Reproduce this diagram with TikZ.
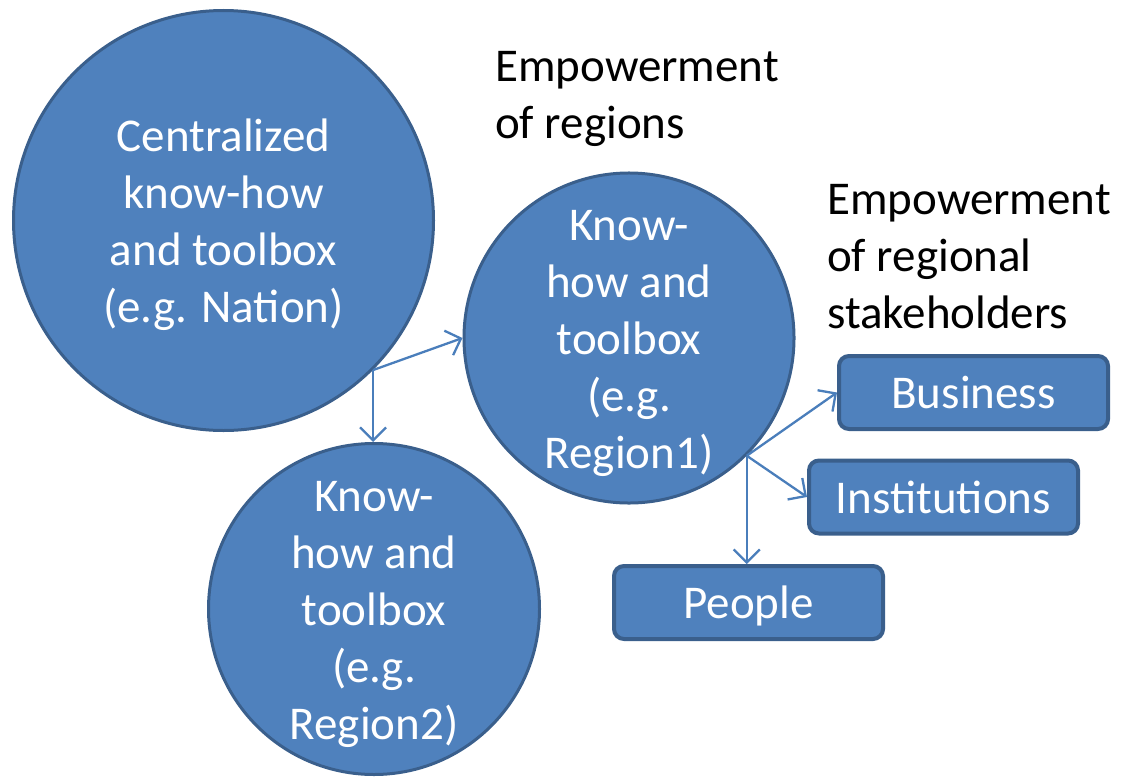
\documentclass[tikz,border=0pt]{standalone}
\usepackage{fontspec}
\setmainfont{Carlito}
\usetikzlibrary{arrows.meta}
\definecolor{fillblue}{HTML}{4F81BD}
\definecolor{edgeblue}{HTML}{3A5F8C}
\definecolor{arrowblue}{HTML}{4A7EBB}
\newcommand\pptstrut{\rule[-12.4pt]{0pt}{56.9pt}}
\tikzset{
  bigfont/.style={font=\fontsize{47}{57}\selectfont},
  bubble/.style={circle, draw=edgeblue, fill=fillblue, line width=3pt, inner sep=0pt,
    text=white, align=center, bigfont},
  stakebox/.style={rectangle, rounded corners=10pt, draw=edgeblue, fill=fillblue, line width=4pt,
    minimum width=269pt, minimum height=73pt, inner sep=0pt, text=white, bigfont},
  heading/.style={anchor=north west, inner sep=0pt, align=left, text=black, bigfont},
  link/.style={draw=arrowblue, line width=2.3pt, -{Straight Barb[length=13pt,width=26pt,line width=2.3pt]}}
}
\begin{document}
\begin{tikzpicture}[x=1pt,y=-1pt]
\useasboundingbox (0,0) rectangle (1123,776);
\node[bubble, minimum size=420pt] (c1) at (223.5,220.5) {\pptstrut Centralized\\\pptstrut know-how\\\pptstrut and toolbox\\\pptstrut (e.g. Nation)};
\node[bubble, minimum size=329pt] (c2) at (629,338) {\pptstrut Know-\\\pptstrut how and\\\pptstrut toolbox\\\pptstrut (e.g.\\\pptstrut Region1)};
\node[bubble, minimum size=331pt] (c3) at (374,609) {\pptstrut Know-\\\pptstrut how and\\\pptstrut toolbox\\\pptstrut (e.g.\\\pptstrut Region2)};
\node[stakebox] (bus) at (973.5,392.5) {\pptstrut Business};
\node[stakebox] (inst) at (943.5,497) {\pptstrut Institutions};
\node[stakebox] (ppl) at (748.5,602.5) {\pptstrut People};
\node[heading] (h1) at (495,36.5) {\pptstrut Empowerment\\\pptstrut of regions};
\node[heading] (h2) at (827,169.5) {\pptstrut Empowerment\\\pptstrut of regional\\\pptstrut stakeholders};
\coordinate (j1) at (c1.-45);
\coordinate (j2) at (c2.-45);
\draw[link] (j1) -- (c2.west);
\draw[link] (j1) -- (j1 |- c3.north);
\draw[link] (j2) -- (bus.west);
\draw[link] (j2) -- (inst.west);
\draw[link] (j2) -- (j2 |- ppl.north);
\end{tikzpicture}
\end{document}
